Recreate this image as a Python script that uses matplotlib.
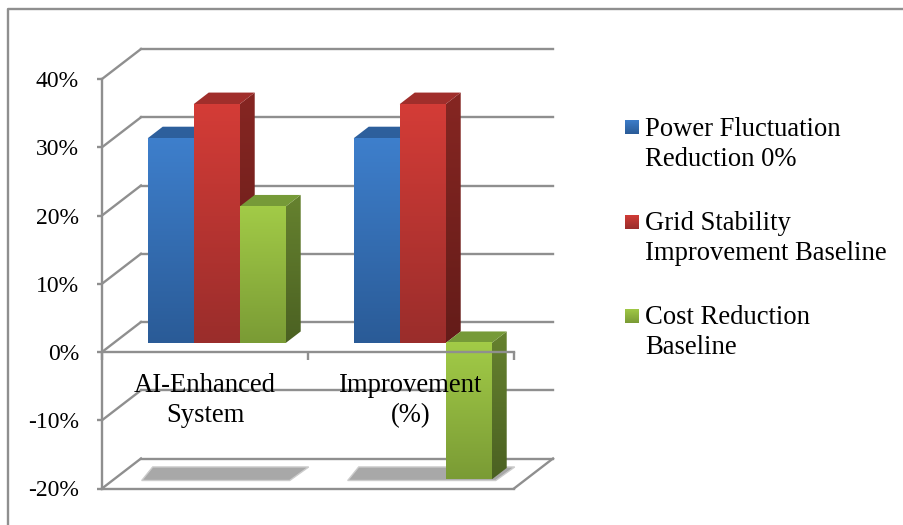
# 3D-look clustered columns: front faces live in a normal axes, depth is a pixel shift

import numpy as np
import matplotlib
matplotlib.use("Agg")
import matplotlib.pyplot as plt
from matplotlib.patches import Polygon
from matplotlib.transforms import Affine2D
from matplotlib.colors import LinearSegmentedColormap

W, H = 904, 525
DPI = 100

categories = ["AI-Enhanced\nSystem", "Improvement\n(%)"]
series = ["Power Fluctuation\nReduction 0%",
          "Grid Stability\nImprovement Baseline",
          "Cost Reduction\nBaseline"]
power_fluctuation = [30, 30]
grid_stability = [35, 35]
cost_reduction = [20, -20]
yticks = [-20, -10, 0, 10, 20, 30, 40]

# (front top, front bottom, side top, side bottom, top face)
blue = ("#3e7fcc", "#2a5b97", "#2a5b97", "#224a7c", "#2d5f9c")
red = ("#d43c37", "#9a2d2b", "#862622", "#641c19", "#a02e2b")
green = ("#a2cb47", "#7a9b35", "#66822f", "#4b6122", "#769a38")

GRID = "#8f8f8f"
LW = 1.7
DX, DY = 39, 30        # shift of the back wall in pixels
NEAR, FAR = 0.30, 0.685  # where the columns start and end inside the depth
BAR_W = 46 / 206

plt.rcParams['font.family'] = ['Liberation Serif', 'DejaVu Serif']
plt.rcParams['font.size'] = 19.15

fig = plt.figure(figsize=(W / DPI, H / DPI), dpi=DPI)


def plane(ax, f):
    return ax.transData + Affine2D().translate(DX * f, DY * f)


def vgrad(ax, c0, c1, extent, trans, clip=None, z=3):
    cm = LinearSegmentedColormap.from_list("g", [c0, c1])
    im = ax.imshow(np.linspace(0, 1, 128).reshape(-1, 1), cmap=cm, aspect="auto",
                   extent=extent, transform=trans, zorder=z, origin="upper")
    if clip is not None:
        im.set_clip_path(clip)
    else:
        im.set_clip_on(False)
    return im


def column(ax, x0, v, cols, z):
    x1 = x0 + BAR_W
    near = plane(ax, NEAR)
    top = max(v, 0)
    bot = min(v, 0)
    dx = DX * (FAR - NEAR)
    dy = DY * (FAR - NEAR)

    # side face, gradient clipped to the parallelogram
    p0 = near.transform((x1, top))
    p1 = near.transform((x1, bot))
    side = Polygon([p0, p0 + (dx, dy), p1 + (dx, dy), p1], closed=True,
                   fc="none", ec="none")
    side.set_transform(Affine2D())
    ax.add_patch(side)
    side.set_clip_on(False)
    vgrad(ax, cols[2], cols[3], (x1, x1 + dx / 206, bot, top + dy / 6.825), near, clip=side, z=z)

    # top face
    ptop = near.transform((x0, top))
    ax.add_patch(Polygon([ptop, p0, p0 + (dx, dy), ptop + (dx, dy)], closed=True,
                         transform=Affine2D(), fc=cols[4], ec="none", zorder=z, clip_on=False))

    # front face
    vgrad(ax, cols[0], cols[1], (x0, x1, bot, top), near, z=z + 0.1)


def main():
    ax = fig.add_axes([102 / W, 1 - 488.5 / H, 412 / W, (488.5 - 79) / H])
    ax.patch.set_visible(False)
    ax.set_xlim(0, len(categories))
    ax.set_ylim(-20, 40)

    # outer frame
    fig.add_artist(plt.Line2D([8 / W, 8 / W, 1], [0, 1 - 9 / H, 1 - 9 / H], color=GRID, lw=LW))

    # back wall, side wall and floor
    back = plane(ax, 1.0)
    front = ax.transData
    for v in yticks:
        ax.plot([0, 2], [v, v], color=GRID, lw=LW, transform=back, clip_on=False, zorder=1)
        a = front.transform((0, v))
        b = back.transform((0, v))
        ax.plot([a[0], b[0]], [a[1], b[1]], color=GRID, lw=LW, transform=Affine2D(),
                clip_on=False, zorder=1)
    ax.plot([0, 2], [-20, -20], color=GRID, lw=LW, clip_on=False, zorder=1)
    a = front.transform((2, -20))
    b = back.transform((2, -20))
    ax.plot([a[0], b[0]], [a[1], b[1]], color=GRID, lw=LW, transform=Affine2D(),
            clip_on=False, zorder=1)

    # floor shadows under each group
    for i in range(len(categories)):
        x0 = i + 0.5 - 1.5 * BAR_W
        x1 = i + 0.5 + 1.5 * BAR_W
        n = plane(ax, NEAR).transform([(x0, -20), (x1, -20)])
        f = plane(ax, FAR).transform([(x0, -20), (x1, -20)])
        pts = [n[0] + (-6, -1), n[1] + (4, -1), f[1] + (8, 1), f[0] + (-10, 1)]
        ax.add_patch(Polygon(pts, closed=True, transform=Affine2D(), fc="#a8a8a8",
                             ec="#cccccc", lw=1.0, zorder=1.5, clip_on=False))

    # columns, left to right so later ones sit over earlier side faces
    z = 2.0
    for i in range(len(categories)):
        for j, (vals, cols) in enumerate(((power_fluctuation, blue),
                                          (grid_stability, red),
                                          (cost_reduction, green))):
            x0 = i + 0.5 - 1.5 * BAR_W + j * BAR_W
            column(ax, x0, vals[i], cols, z)
            z += 0.01

    ax.set_xlim(0, len(categories))
    ax.set_ylim(-20, 40)

    # value axis and zero line with category labels
    for s in ("top", "right"):
        ax.spines[s].set_visible(False)
    ax.spines["bottom"].set_position(("data", 0))
    for s in ("left", "bottom"):
        ax.spines[s].set_color(GRID)
        ax.spines[s].set_linewidth(LW)
        ax.spines[s].set_zorder(5)
    ax.set_yticks(yticks)
    ax.set_yticklabels(["%d%%" % v for v in yticks], fontsize=17)
    ax.tick_params(axis="y", color=GRID, width=LW, length=3.6, pad=13)
    ax.set_xticks([0, 1, 2])
    ax.set_xticklabels([])
    ax.tick_params(axis="x", which="major", color=GRID, width=LW, length=5.5)
    ax.set_xticks([0.5, 1.5], minor=True)
    ax.set_xticklabels(categories, minor=True, linespacing=1.27)
    ax.tick_params(axis="x", which="minor", length=0, pad=15)
    for t in ax.get_xticklabels(minor=True):
        t.set_zorder(6)
    ax.set_axisbelow(False)

    # legend, laid out by hand because of the shaded swatches
    tops = [120, 215, 309]
    lines = [128, 222, 316]
    for name, cols, top, y in zip(series, (blue, red, green), tops, lines):
        sw = fig.add_axes([625 / W, 1 - (top + 14.5) / H, 14 / W, 14.5 / H])
        cm = LinearSegmentedColormap.from_list("g", [cols[0], cols[1]])
        sw.imshow(np.linspace(0, 1, 32).reshape(-1, 1), cmap=cm, aspect="auto")
        sw.axis("off")
        fig.text(645 / W, 1 - (y - 11) / H, name, ha="left", va="top", linespacing=1.27)

    fig.savefig("out.png", dpi=DPI)


main()
